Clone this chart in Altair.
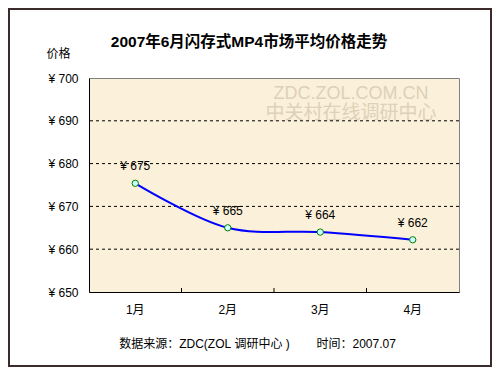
import altair as alt
import pandas as pd

months = ["1月", "2月", "3月", "4月"]
prices = [675.4, 665.0, 664.0, 662.2]
price_labels = ["¥ 675", "¥ 665", "¥ 664", "¥ 662"]
y_ticks = [650, 660, 670, 680, 690, 700]
grid_values = [660, 670, 680, 690]
title_text = "2007年6月闪存式MP4市场平均价格走势"
y_title = "价格"
NB = "\u00a0"
source_text = "数据来源：ZDC(ZOL" + NB + "调研中心" + NB + ")" + NB * 8 + "时间：2007.07"
watermark = ["ZDC.ZOL.COM.CN", "中关村在线调研中心"]

df = pd.DataFrame({"month": months, "price": prices, "label": price_labels})
grid_df = pd.DataFrame({"price": grid_values})
tick_df = pd.DataFrame({"month": months[1:]})
one = pd.DataFrame({"a": [0]})

FONT = "Liberation Sans, Noto Sans CJK SC"
W, H = 370, 214

xscale = alt.Scale(type="band", domain=months, paddingInner=0, paddingOuter=0)
yscale = alt.Scale(domain=[650, 700], nice=False, zero=False)

x_axis = alt.Axis(
    title=source_text, labelAngle=0, ticks=False, domainColor="black",
    labelPadding=12, labelFontSize=12, labelColor="black", labelFont=FONT,
    titleFont=FONT, titleFontSize=12, titleFontWeight="normal", titleColor="black",
    titleX=168, titleY=51, titleAlign="center", titleBaseline="middle", grid=False,
)
y_axis = alt.Axis(
    values=y_ticks, ticks=False, grid=False, domainColor="black",
    labelExpr="'¥ ' + datum.value", labelPadding=11, labelFontSize=12,
    labelColor="black", labelFont=FONT,
    title=y_title, titleAngle=0, titleX=-31, titleY=-25, titleAlign="center",
    titleBaseline="middle", titleFont=FONT, titleFontSize=12,
    titleFontWeight="normal", titleColor="black",
)


def X(band=0.5):
    return alt.X("month:N", scale=xscale, sort=months, bandPosition=band, axis=x_axis)


def Y():
    return alt.Y("price:Q", scale=yscale, axis=y_axis)


grid = alt.Chart(grid_df).mark_rule(color="black", strokeDash=[3, 3], strokeWidth=1).encode(y=Y())

ticks = alt.Chart(tick_df).mark_rule(color="black", strokeWidth=1).encode(
    x=X(0), y=alt.value(H - 4), y2=alt.value(H),
)

wm1 = alt.Chart(one).mark_text(text=watermark[0], font=FONT, fontSize=18, color="#ddd1b9").encode(
    x=alt.value(262), y=alt.value(16))
wm2 = alt.Chart(one).mark_text(text=watermark[1], font=FONT, fontSize=19, color="#ddd1b9").encode(
    x=alt.value(262), y=alt.value(35))

title = alt.Chart(one).mark_text(text=title_text, font=FONT, fontSize=15.5, fontWeight="bold",
                                 color="black", baseline="middle").encode(
    x=alt.value(160), y=alt.value(-36))

base = alt.Chart(df)
line = base.mark_line(color="#0000FF", strokeWidth=2, interpolate="catmull-rom").encode(x=X(), y=Y())
points = base.mark_point(shape="circle", filled=True, fill="#CCFFFF", stroke="#008000",
                         strokeWidth=1, size=40, opacity=1).encode(x=X(), y=Y())
labels = base.mark_text(dy=-17, fontSize=12, font=FONT, color="black").encode(
    x=X(), y=Y(), text="label:N")

border = alt.Chart(one).mark_rect(fillOpacity=0, stroke="#3b2b2b", strokeWidth=2).encode(
    x=alt.value(-80), x2=alt.value(402), y=alt.value(-69), y2=alt.value(288))

chart = alt.layer(
    wm1, wm2, grid, ticks, line, points, labels, title, border
).properties(
    width=W, height=H,
    padding={"left": 81, "top": 70, "right": 33, "bottom": 75},
    autosize=alt.AutoSizeParams(type="none"),
    background="white",
).configure_view(fill="#FBF0D9", stroke="#808080", strokeWidth=1)

chart.save("out.html", embed_options={"renderer": "svg", "actions": False})
